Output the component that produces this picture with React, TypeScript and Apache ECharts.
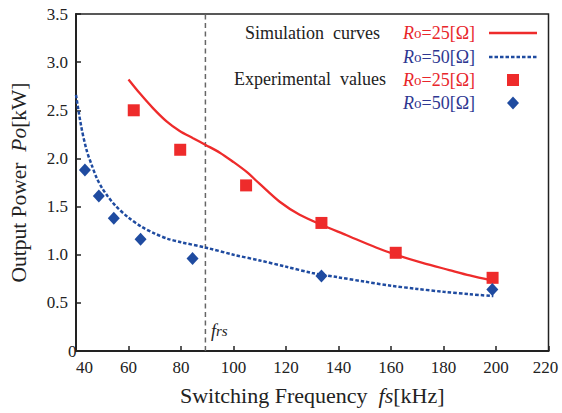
import React, { useEffect, useRef } from "react";
import * as echarts from "echarts";

// ---- data ----
const xTicks = [40, 60, 80, 100, 120, 140, 160, 180, 200, 220];
const yTicks = [0, 0.5, 1.0, 1.5, 2.0, 2.5, 3.0, 3.5];

const simR25: [number, number][] = [
  [60, 2.82], [64.3, 2.676], [69.4, 2.52], [74.5, 2.385], [79.5, 2.285], [84.6, 2.21], [89.4, 2.14],
  [94.8, 2.06], [99.8, 1.966], [104.9, 1.862], [110, 1.735], [117.6, 1.55], [125.2, 1.415], [133.8, 1.308],
  [142.9, 1.205], [154.3, 1.075], [161.8, 1.0], [172, 0.915], [182.2, 0.841], [190, 0.785], [198.7, 0.73],
];
const simR50: [number, number][] = [
  [40, 2.66], [42, 2.33], [44, 2.09], [46, 1.93], [48, 1.79], [50, 1.69], [52, 1.61], [55, 1.51],
  [60, 1.385], [65, 1.29], [70, 1.22], [75, 1.165], [80, 1.13], [90, 1.07], [100, 1.0], [110, 0.94],
  [120, 0.876], [130, 0.81], [140, 0.765], [150, 0.72], [160, 0.678], [170, 0.645], [180, 0.615], [190, 0.59], [199, 0.57],
];
const expR25: [number, number][] = [
  [62, 2.5], [79.7, 2.09], [104.8, 1.72], [133.5, 1.33], [161.8, 1.02], [198.7, 0.76],
];
const expR50: [number, number][] = [
  [43.4, 1.88], [48.7, 1.61], [54.4, 1.38], [64.6, 1.16], [84.4, 0.96], [133.5, 0.78], [198.6, 0.64],
];
const fRs = 89.3;
const fRsLine: [number, number][] = [[fRs, 0], [fRs, 3.5]];

const RED = "#ee2b2b";
const BLUE = "#1f4ba0";
const RED_TXT = "#e8262b";
const BLUE_TXT = "#2e3791";
const FONT = "Liberation Serif";

export default function App() {
  const ref = useRef<HTMLDivElement>(null);
  useEffect(() => {
    if (!ref.current) return;
    const chart = echarts.init(ref.current, undefined, { renderer: "svg" });
    const rLabel = (val: string, color: string) => ({
      text: `{i|R}{s|o}{n|=${val}[Ω]}`,
      fill: color,
      fontFamily: FONT,
      fontSize: 18,
      rich: {
        i: { fontFamily: FONT, fontStyle: "italic", fontSize: 18, fill: color },
        s: { fontFamily: FONT, fontSize: 15, fill: color },
        n: { fontFamily: FONT, fontSize: 18, fill: color },
      },
      textAlign: "left",
      textVerticalAlign: "middle",
    });
    chart.setOption({
      animation: false,
      backgroundColor: "#fff",
      textStyle: { fontFamily: FONT },
      grid: {
        left: 76, right: 13.5, top: 14, bottom: 62,
        show: true, borderColor: "#222", borderWidth: 1.5,
      },
      xAxis: {
        type: "value",
        min: 40, max: 220, interval: 20,
        name: "{a|Switching Frequency  }{b|fs}{a|[kHz]}",
        nameLocation: "middle",
        nameGap: 33,
        nameTextStyle: {
          rich: {
            a: { fontFamily: FONT, fontSize: 22, color: "#222" },
            b: { fontFamily: FONT, fontSize: 22, fontStyle: "italic", color: "#222" },
          },
        },
        axisLine: { lineStyle: { color: "#222", width: 2 } },
        axisTick: { inside: true, length: 5, lineStyle: { color: "#222", width: 1.5 } },
        axisLabel: {
          fontFamily: FONT, fontSize: 17, color: "#222", margin: 8,
          alignMinLabel: "left",
          formatter: (v: number) => {
            if (!xTicks.includes(v)) return "";
            return v === 220 ? `{m|${v}}` : String(v);
          },
          rich: {
            m: { fontFamily: FONT, fontSize: 17, color: "#222", padding: [0, 6, 0, 0] },
          },
        },
        splitLine: { show: false },
      },
      yAxis: {
        type: "value",
        min: 0, max: 3.5, interval: 0.5,
        name: "{a|Output Power  }{b|Po}{a|[kW]}",
        nameLocation: "middle",
        nameGap: 46,
        nameTextStyle: {
          rich: {
            a: { fontFamily: FONT, fontSize: 21.5, color: "#222" },
            b: { fontFamily: FONT, fontSize: 21.5, fontStyle: "italic", color: "#222" },
          },
        },
        axisLine: { show: true, lineStyle: { color: "#222", width: 2 } },
        axisTick: { show: true, inside: true, length: 5, lineStyle: { color: "#222", width: 1.5 } },
        axisLabel: {
          fontFamily: FONT, fontSize: 17, color: "#222", margin: 8,
          alignMinLabel: "bottom",
          formatter: (v: number) => {
            const t = yTicks.find((y) => Math.abs(y - v) < 1e-9);
            if (t === undefined) return "";
            return t === 0 ? "0" : t.toFixed(1);
          },
        },
        splitLine: { show: false },
      },
      series: [
        {
          type: "line", data: fRsLine, symbol: "none", silent: true,
          lineStyle: { color: "#666", width: 1.5, type: [5, 3.5] },
        },
        {
          type: "line", data: simR50, symbol: "none", smooth: 0.3,
          lineStyle: { color: BLUE, width: 2.5, type: [3.5, 2] },
        },
        {
          type: "line", data: simR25, symbol: "none", smooth: 0.3,
          lineStyle: { color: RED, width: 2.3 },
        },
        {
          type: "scatter", data: expR25, symbol: "rect", symbolSize: 12,
          itemStyle: { color: RED, opacity: 1 },
        },
        {
          type: "scatter", data: expR50, symbol: "diamond", symbolSize: [12, 13],
          itemStyle: { color: BLUE, opacity: 1 },
        },
      ],
      graphic: [
        {
          type: "text", x: 211, y: 331,
          style: {
            text: "{f|f}{r|rs}",
            rich: {
              f: { fontFamily: FONT, fontStyle: "italic", fontSize: 18, fill: "#222" },
              r: { fontFamily: FONT, fontStyle: "italic", fontSize: 15, fill: "#222" },
            },
            textVerticalAlign: "middle",
          },
        },
        {
          type: "text", x: 380, y: 33,
          style: { text: "Simulation  curves", fontFamily: FONT, fontSize: 18, fill: "#222", textAlign: "right", textVerticalAlign: "middle" },
        },
        {
          type: "text", x: 386, y: 79,
          style: { text: "Experimental  values", fontFamily: FONT, fontSize: 18, fill: "#222", textAlign: "right", textVerticalAlign: "middle" },
        },
        { type: "text", x: 403, y: 33, style: rLabel("25", RED_TXT) },
        { type: "text", x: 403, y: 57, style: rLabel("50", BLUE_TXT) },
        { type: "text", x: 403, y: 80, style: rLabel("25", RED_TXT) },
        { type: "text", x: 403, y: 103, style: rLabel("50", BLUE_TXT) },
        {
          type: "line", shape: { x1: 489, y1: 33, x2: 537, y2: 33 },
          style: { stroke: RED, lineWidth: 2.5 },
        },
        {
          type: "line", shape: { x1: 489, y1: 57, x2: 537, y2: 57 },
          style: { stroke: BLUE, lineWidth: 2.5, lineDash: [3.5, 2] },
        },
        {
          type: "rect", shape: { x: 507, y: 74, width: 12, height: 12 },
          style: { fill: RED },
        },
        {
          type: "polygon",
          shape: { points: [[513, 96.5], [519, 103], [513, 109.5], [507, 103]] },
          style: { fill: BLUE },
        },
      ],
    });
    return () => chart.dispose();
  }, []);
  return <div ref={ref} style={{ width: 562, height: 413, position: "absolute", left: 0, top: 0 }} />;
}
